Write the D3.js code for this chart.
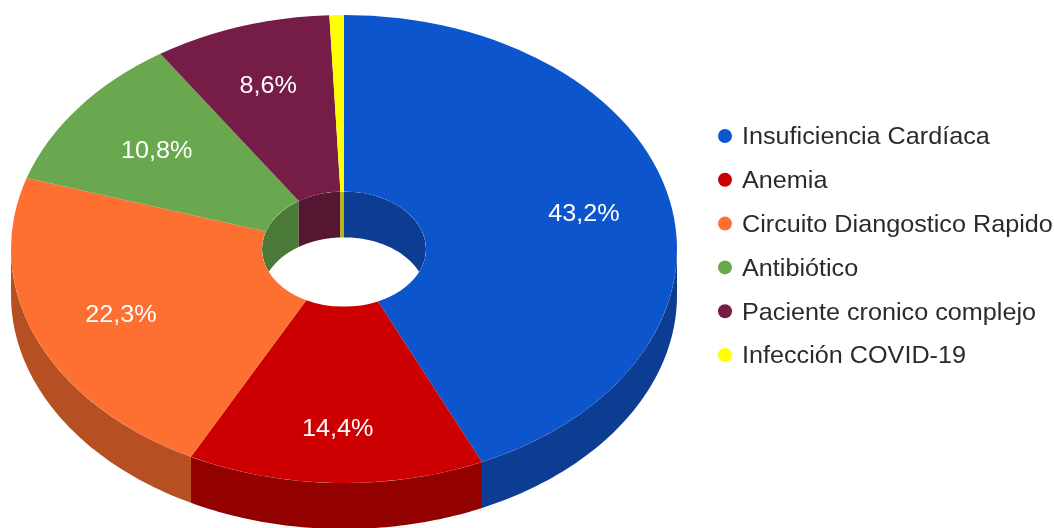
<!DOCTYPE html>
<html>
<head>
<meta charset="utf-8">
<script src="https://cdn.jsdelivr.net/npm/d3@7"></script>
<style>
  html, body { margin: 0; padding: 0; background: #fff; overflow: hidden; }
  text { font-family: "Liberation Sans", Arial, sans-serif; }
</style>
</head>
<body>
<div id="wrapper"></div>
<script>
const categories = ["Insuficiencia Cardíaca", "Anemia", "Circuito Diangostico Rapido", "Antibiótico", "Paciente cronico complejo", "Infección COVID-19"]
const values = [43.2, 14.4, 22.3, 10.8, 8.6, 0.7]
const colors = ["#1155cc", "#cc0000", "#fd6f31", "#6aa84f", "#741b47", "#ffff00"]

const width = 1054
const height = 528
const center = { x: 344, y: 249 }
const outerRadius = 333
const innerRadius = 82
const squash = 234 / 333
const depth = 46
// how far out each percent label sits, as a share of the radius
const labelReach = [0.737, 0.765, 0.725, 0.705, 0.737, 0.73]

const wrapper = d3.select("#wrapper")
  .append("svg")
    .attr("width", width)
    .attr("height", height)

// the source image is a soft, slightly stretched screenshot
wrapper.append("filter")
    .attr("id", "soft")
  .append("feGaussianBlur")
    .attr("stdDeviation", 0.55)

const chart = wrapper.append("g")
  .attr("filter", "url(#soft)")

const slices = d3.pie().sort(null)(values)

const shade = c => {
  const rgb = d3.rgb(c)
  return d3.rgb(rgb.r * 0.72, rgb.g * 0.72, rgb.b * 0.72).formatHex()
}

// points along the ring edge, angle 0 at the top going clockwise
const edge = (radius, from, to, drop) => d3.range(0, 61).map(i => {
  const a = from + (to - from) * i / 60
  return [
    center.x + radius * Math.sin(a),
    center.y - radius * squash * Math.cos(a) + drop
  ]
})
const line = d3.line()
const band = (radius, from, to) =>
  line(edge(radius, from, to, 0).concat(edge(radius, to, from, depth))) + "Z"

// outer wall, only the front half can be seen
const walls = chart.append("g")
slices.forEach((d, i) => {
  const from = Math.max(d.startAngle, Math.PI / 2)
  const to = Math.min(d.endAngle, Math.PI * 1.5)
  if (from >= to) return
  walls.append("path")
    .attr("d", band(outerRadius, from, to))
    .attr("fill", shade(colors[i]))
})

// inner wall, seen through the hole
wrapper.append("clipPath")
    .attr("id", "hole")
  .append("ellipse")
    .attr("cx", center.x)
    .attr("cy", center.y)
    .attr("rx", innerRadius)
    .attr("ry", innerRadius * squash)

const innerWalls = chart.append("g")
  .attr("clip-path", "url(#hole)")
const firstBack = slices.find(d => d.startAngle > Math.PI * 1.5)
slices.forEach((d, i) => {
  const isFront = d.startAngle > Math.PI / 2 && d.startAngle < Math.PI * 1.5
  if (isFront) return
  // the first back slice also covers the left tip of the hole
  const from = d === firstBack ? Math.PI * 1.35 : d.startAngle
  innerWalls.append("path")
    .attr("d", band(innerRadius, from, d.endAngle))
    .attr("fill", shade(colors[i]))
})

// top face
const arc = d3.arc()
  .innerRadius(innerRadius)
  .outerRadius(outerRadius)
const face = chart.append("g")
  .attr("transform", `translate(${center.x},${center.y}) scale(1,${squash})`)
face.selectAll("path")
  .data(slices)
  .join("path")
    .attr("d", arc)
    .attr("fill", (d, i) => colors[i])

// percent labels
const labelPos = d => {
  const mid = (d.startAngle + d.endAngle) / 2
  const r = outerRadius * labelReach[d.index]
  return [center.x + r * Math.sin(mid), center.y - r * squash * Math.cos(mid)]
}
const formatValue = d3.formatLocale({ decimal: ",", thousands: ".", grouping: [3], currency: ["", "€"] }).format(".1f")

chart.append("g")
  .selectAll("text")
  .data(slices.filter(d => d.value > 5))
  .join("text")
    .attr("transform", d => `translate(${labelPos(d)}) scale(1.05,1)`)
    .attr("dy", "0.35em")
    .attr("text-anchor", "middle")
    .attr("font-size", 24)
    .attr("fill", "#fff")
    .text(d => formatValue(d.value) + "%")

// legend
const legendY = d3.scalePoint()
  .domain(categories)
  .range([136, 355])

const legend = chart.append("g")
  .selectAll("g")
  .data(categories)
  .join("g")
    .attr("transform", d => `translate(725,${legendY(d)})`)
legend.append("circle")
    .attr("r", 7)
    .attr("fill", (d, i) => colors[i])
legend.append("text")
    .attr("transform", "translate(17,0) scale(1.05,1)")
    .attr("dy", "0.35em")
    .attr("font-size", 24)
    .attr("fill", "#2b2b2b")
    .text(d => d)
</script>
</body>
</html>
